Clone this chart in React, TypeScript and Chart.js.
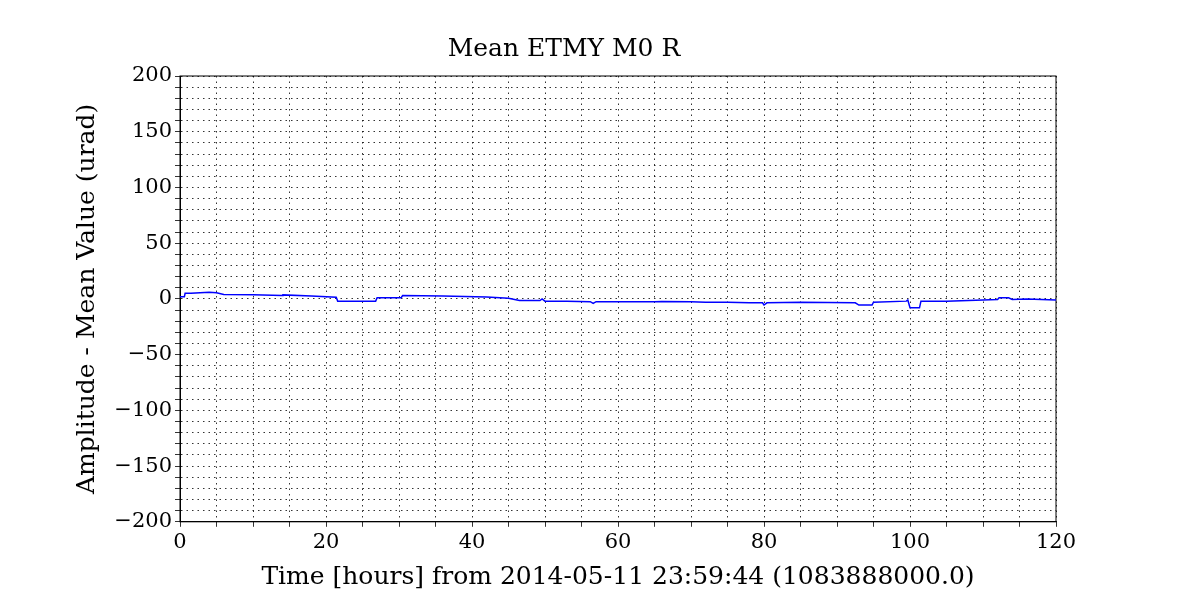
import { Chart } from 'chart.js/auto';
import { useEffect, useRef } from 'react';

const hours = [0, 0.6, 0.7, 1.5, 4, 5, 6, 10, 14, 14.1, 18, 21.4, 21.6, 26.8, 27, 30.3, 30.5, 36, 42, 45, 46.5, 49.3, 49.6, 50, 53, 56.2, 56.6, 57, 65, 66, 70, 72, 75, 78, 79.8, 80, 80.4, 85, 92.5, 93, 94.8, 95, 99.5, 99.7, 100, 101.3, 101.5, 105, 110, 112, 112.2, 113.5, 114, 116, 120];
const values = [2, 2, 5, 5, 6, 5.5, 4, 3.8, 3, 3.6, 2.5, 1.5, -2, -2, 1, 1, 3, 2.5, 1.8, 0.5, -1.5, -1.5, 0, -2, -2, -2.5, -4, -2.5, -2.5, -2.3, -2.5, -3, -3, -3.5, -3.5, -5.5, -3.5, -3, -3.5, -5.5, -5.5, -3, -2, -1, -8, -8, -2, -2, -1, -0.5, 1, 1, -0.5, 0, -1];

export default function App() {
  const canvas = useRef<HTMLCanvasElement | null>(null);

  useEffect(() => {
    if (!canvas.current) return;
    const serif = "'DejaVu Serif', 'Liberation Serif', serif";
    const chart = new Chart(canvas.current, {
      type: 'line',
      data: {
        datasets: [
          {
            data: hours.map((h, i) => ({ x: h, y: values[i] })),
            borderColor: '#0000ff',
            borderWidth: 1.5,
            pointRadius: 0,
            fill: false,
          },
        ],
      },
      options: {
        animation: false,
        responsive: false,
        layout: { padding: { left: 64, right: 136, top: 0, bottom: 0 } },
        plugins: {
          legend: { display: false },
          tooltip: { enabled: false },
          title: {
            display: true,
            text: 'Mean ETMY M0 R',
            color: '#000',
            font: { family: serif, size: 25, weight: 'normal' },
            padding: { top: 26, bottom: 12 },
          },
        },
        scales: {
          x: {
            type: 'linear',
            min: 0,
            max: 120,
            ticks: {
              stepSize: 5,
              color: '#000',
              font: { family: serif, size: 21 },
              callback: (v) => (Number(v) % 20 === 0 ? String(v) : ''),
              autoSkip: false,
              maxRotation: 0,
            },
            grid: { color: '#000', lineWidth: 0.8, tickLength: 5 },
            border: { color: '#000', dash: [1.5, 4] },
            title: {
              display: true,
              text: 'Time [hours] from 2014-05-11 23:59:44 (1083888000.0)',
              color: '#000',
              font: { family: serif, size: 25 },
            },
          },
          y: {
            min: -200,
            max: 200,
            afterFit: (s) => { s.width = 108; },
            ticks: {
              stepSize: 10,
              color: '#000',
              font: { family: serif, size: 21 },
              callback: (v) => (Number(v) % 50 === 0 ? (Number(v) < 0 ? '\u2212' + Math.abs(Number(v)) : String(v)) : ''),
              autoSkip: false,
            },
            grid: { color: '#000', lineWidth: 0.8, tickLength: 5 },
            border: { color: '#000', dash: [1.5, 4] },
            title: {
              display: true,
              text: 'Amplitude - Mean Value (urad)',
              color: '#000',
              font: { family: serif, size: 25 },
              padding: 0,
            },
          },
        },
      },
      plugins: [
        {
          id: 'frame',
          beforeDatasetsDraw: (c) => {
            const { left, top, width, height } = c.chartArea;
            c.ctx.save();
            c.ctx.setLineDash([]);
            c.ctx.strokeStyle = '#000';
            c.ctx.lineWidth = 1;
            c.ctx.strokeRect(left, top, width, height);
            c.ctx.restore();
          },
        },
      ],
    });
    return () => chart.destroy();
  }, []);

  return <canvas ref={canvas} width={1184} height={588} style={{ background: '#fff' }} />;
}
